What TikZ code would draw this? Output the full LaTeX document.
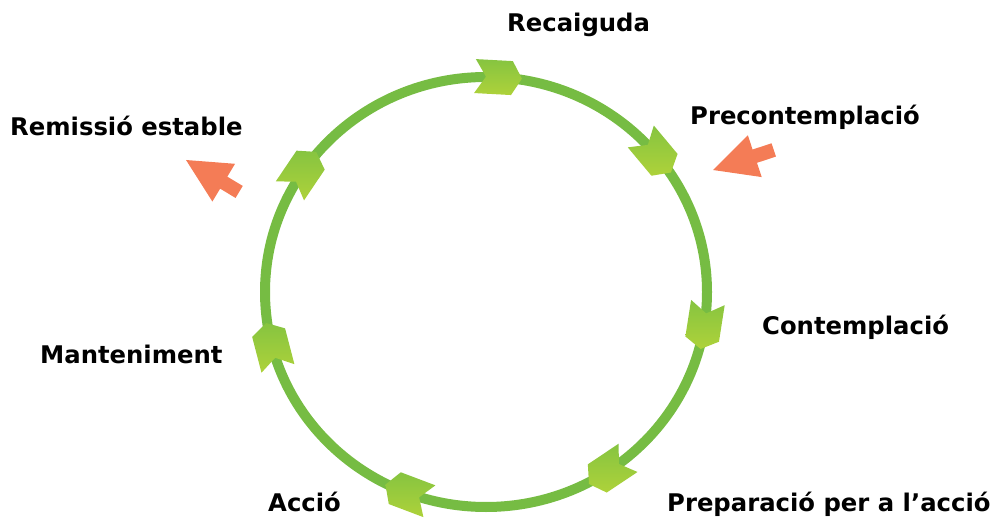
\documentclass[tikz,border=0pt]{standalone}
\usepackage{fontspec}
\setmainfont{DejaVu Sans}
\definecolor{ringgreen}{HTML}{76BC43}
\definecolor{chevtop}{HTML}{86C440}
\definecolor{chevbot}{HTML}{AED23A}
\definecolor{coral}{HTML}{F47C56}
\tikzset{
  lbl/.style={font=\bfseries\fontsize{24.3}{29}\selectfont, anchor=base west, inner sep=0pt, text=black},
}
\begin{document}
\begin{tikzpicture}[x=1pt,y=1pt]
\useasboundingbox (0,0) rectangle (998,520);
\coordinate (c) at (486,228);
\draw[ringgreen, line width=10pt] (c) ellipse [x radius=221, y radius=215];
\foreach \t in {86.9,39.9,-8.9,-56.2,-110.7,194.6,146.0} {
  \pgfmathsetmacro\r{\t-90}
  \begin{scope}[shift={({486+221*cos(\t)},{228+215*sin(\t)})}, rotate=\r]
    \shade[top color=chevtop, bottom color=chevbot]
      (-23,17) -- (14,17) -- (24,0) -- (14,-17) -- (-23,-17) -- (-12,0) -- cycle;
  \end{scope}
}
% orange arrows
\begin{scope}[shift={(713,350)}, rotate=198.3]
  \fill[coral] (0,0) -- (-44,22) -- (-44,7) -- (-64,7) -- (-64,-7) -- (-44,-7) -- (-44,-22) -- cycle;
\end{scope}
\begin{scope}[shift={(186,360)}, rotate=149]
  \fill[coral] (0,0) -- (-44,22) -- (-44,7) -- (-62,7) -- (-62,-7) -- (-44,-7) -- (-44,-22) -- cycle;
\end{scope}
% labels
\node[lbl] (recaiguda) at (507,488) {Recaiguda};
\node[lbl] (precont) at (690,395) {Precontemplació};
\node[lbl] (remissio) at (10,384) {Remissió estable};
\node[lbl] (contemp) at (762,186) {Contemplació};
\node[lbl] (mant) at (40,157) {Manteniment};
\node[lbl] (accio) at (268,9) {Acció};
\node[lbl] (prep) at (667,9) {Preparació per a l’acció};
\end{tikzpicture}
\end{document}
